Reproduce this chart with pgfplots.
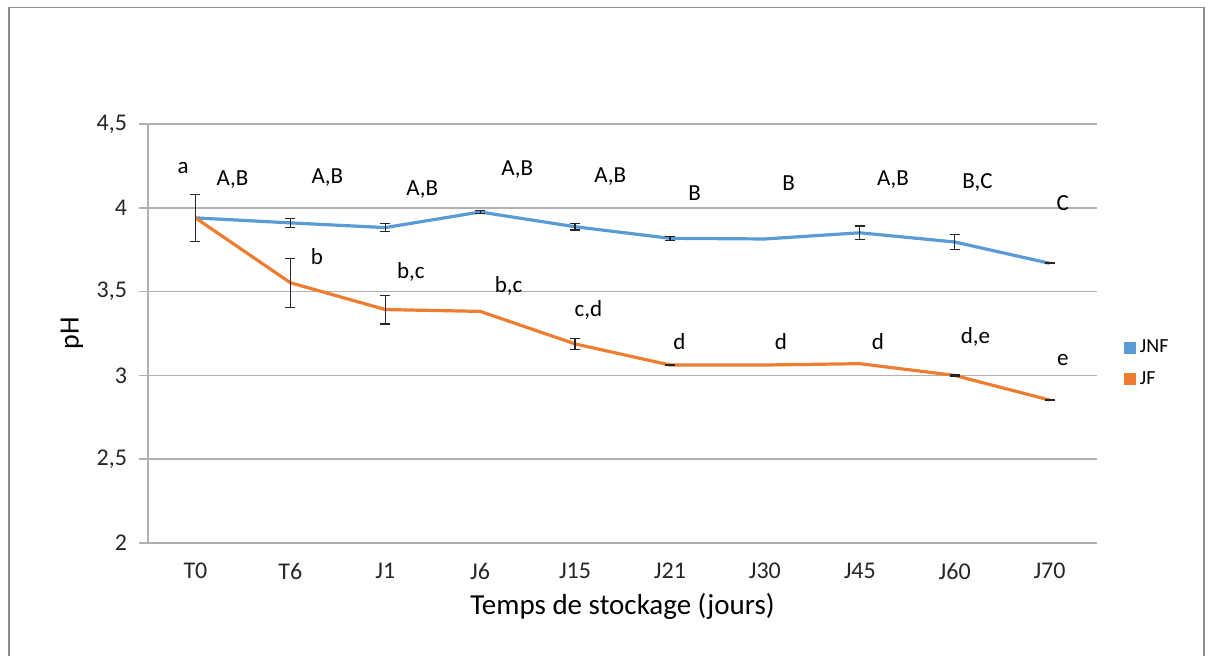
\documentclass[border=0pt]{standalone}
\usepackage{pgfplots}
\pgfplotsset{compat=1.18}
\usepackage{pgfplotstable}
\usepackage{fontspec}
\setmainfont{Carlito}
\definecolor{jnf}{HTML}{5B9BD5}
\definecolor{jf}{HTML}{ED7D31}
\definecolor{gridc}{HTML}{B0B0B0}
\definecolor{framec}{HTML}{8C8C8C}
\pgfplotstableread{
x y
0 3.940
1 3.910
2 3.882
3 3.975
4 3.887
5 3.818
6 3.814
7 3.851
8 3.796
9 3.669
}\jnfdata
\pgfplotstableread{
x y e
0 3.940 0.140
1 3.910 0.028
2 3.882 0.025
3 3.975 0.008
4 3.887 0.020
5 3.818 0.012
7 3.851 0.040
8 3.796 0.047
9 3.669 0.003
}\jnferr
\pgfplotstableread{
x y
0 3.940
1 3.553
2 3.393
3 3.382
4 3.188
5 3.062
6 3.062
7 3.070
8 3.000
9 2.853
}\jfdata
\pgfplotstableread{
x y e
0 3.940 0.140
1 3.553 0.146
2 3.393 0.086
4 3.188 0.033
5 3.062 0.004
8 3.000 0.003
9 2.853 0.002
}\jferr
\begin{document}
\begin{tikzpicture}
\begin{axis}[
 at={(0pt,0pt)}, anchor=south west,
 scale only axis, width=474.5pt, height=209.5pt,
 xmin=-0.5, xmax=9.5, ymin=2, ymax=4.5,
 xtick={0,...,9}, xticklabels={T0,T6,J1,J6,J15,J21,J30,J45,J60,J70},
 ytick={2,2.5,3,3.5,4,4.5}, yticklabels={2,{2,5},3,{3,5},4,{4,5}},
 axis x line*=bottom, axis y line*=left,
 axis line style={draw=gridc, line width=1pt, -},
 ymajorgrids, grid style={draw=gridc, line width=0.75pt},
 tick align=outside, major tick length=4.5pt,
 ytick style={draw=gridc, line width=0.75pt},
 xtick style={draw=none},
 /pgf/number format/assume math mode=true,
 ticklabel style={font=\fontsize{12}{14}\selectfont, text=black!85},
 xticklabel style={yshift=-2pt},
 yticklabel style={xshift=-2.5pt},
 xlabel={Temps de stockage (jours)}, ylabel={pH},
 xlabel style={at={(axis description cs:0.5,-0.1504)}, anchor=center, font=\fontsize{14.5}{17}\selectfont},
 ylabel style={at={(axis description cs:-0.0801,0.5)}, anchor=center, font=\fontsize{14}{16}\selectfont},
 legend style={at={(axis description cs:1.028,0.4285)}, anchor=west, draw=none, fill=none,
   font=\fontsize{10}{12}\selectfont, row sep=4pt, inner sep=0pt},
 legend cell align=left,
 legend image code/.code={\fill[#1] (0pt,-2.2pt) rectangle (4.4pt,2.2pt);},
 clip=false,
]
\addplot[jnf, line width=1.6pt, no marks] table[x=x, y=y] {\jnfdata};
\addlegendentry{JNF}
\addplot[jf, line width=1.6pt, no marks] table[x=x, y=y] {\jfdata};
\addlegendentry{JF}
\addplot[forget plot, draw=none, no marks,
  error bars/.cd, y dir=both, y explicit,
  error bar style={black!85, line width=0.6pt},
  error mark options={rotate=90, black!85, mark size=2.5pt, line width=0.6pt}]
  table[x=x, y=y, y error=e] {\jnferr};
\addplot[forget plot, draw=none, no marks,
  error bars/.cd, y dir=both, y explicit,
  error bar style={black!85, line width=0.6pt},
  error mark options={rotate=90, black!85, mark size=2.5pt, line width=0.6pt}]
  table[x=x, y=y, y error=e] {\jferr};
\begin{scope}[every node/.style={font=\fontsize{11.5}{13}\selectfont, inner sep=0pt, anchor=center}]
\node at (axis cs:0.39,4.166) {A,B};
\node at (axis cs:1.39,4.178) {A,B};
\node at (axis cs:2.39,4.106) {A,B};
\node at (axis cs:3.39,4.226) {A,B};
\node at (axis cs:4.37,4.184) {A,B};
\node at (axis cs:5.26,4.088) {B};
\node at (axis cs:6.25,4.148) {B};
\node at (axis cs:7.35,4.166) {A,B};
\node at (axis cs:8.24,4.148) {B,C};
\node at (axis cs:9.14,4.030) {C};
\node at (axis cs:-0.13,4.237) {a};
\node at (axis cs:1.28,3.706) {b};
\node at (axis cs:2.27,3.617) {b,c};
\node at (axis cs:3.30,3.533) {b,c};
\node at (axis cs:4.14,3.390) {c,d};
\node at (axis cs:5.10,3.199) {d};
\node at (axis cs:6.17,3.199) {d};
\node at (axis cs:7.19,3.199) {d};
\node at (axis cs:8.22,3.229) {d,e};
\node at (axis cs:9.14,3.092) {e};
\end{scope}
\end{axis}
\draw[framec, line width=0.7pt] (-69.5pt,-60pt) -- (-69.5pt,267.85pt) -- (528pt,267.85pt) -- (528pt,-60pt);
\pgfresetboundingbox
\useasboundingbox (-74pt,-56pt) rectangle (530pt,271.5pt);
\end{tikzpicture}
\end{document}
